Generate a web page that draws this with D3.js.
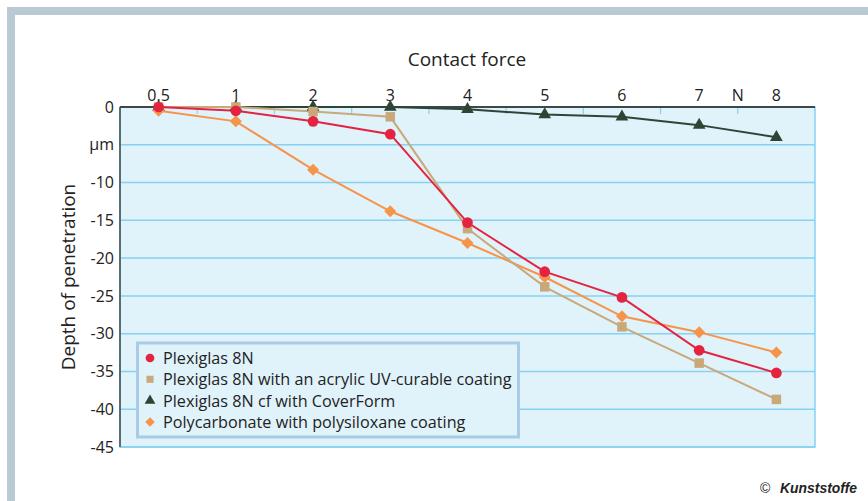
<!DOCTYPE html>
<html>
<head>
  <meta charset="UTF-8">
  <title>Depth of penetration vs contact force</title>
  <script src="https://d3js.org/d3.v7.min.js"></script>
  <style>
    body { margin: 0; background: #fff; }
    svg { display: block; font-family: "Open Sans", "Noto Sans", sans-serif; }
    .tick text { fill: #222; }
  </style>
</head>
<body>
  <div id="chart"></div>
  <script>
    // chart data
    var forces = ["0.5", "1", "2", "3", "4", "5", "6", "7", "8"];
    var seriesNames = [
      "Plexiglas 8N",
      "Plexiglas 8N with an acrylic UV-curable coating",
      "Plexiglas 8N cf with CoverForm",
      "Polycarbonate with polysiloxane coating"
    ];
    var plexi = [0, -0.5, -1.9, -3.6, -15.3, -21.8, -25.2, -32.2, -35.2];
    var plexiUV = [0, 0, -0.6, -1.3, -16.1, -23.8, -29.1, -33.9, -38.7];
    var coverForm = [0, 0, 0, 0, -0.3, -1.0, -1.3, -2.4, -4.0];
    var polycarb = [-0.5, -1.9, -8.3, -13.8, -18.0, -22.5, -27.7, -29.8, -32.5];
    var yTicks = [0, -5, -10, -15, -20, -25, -30, -35, -40, -45];

    var colors = ["#e3233f", "#c9a97a", "#2e4536", "#f6944a"];
    // diamond = square turned 45 degrees
    var symbols = [d3.symbolCircle, d3.symbolSquare, d3.symbolTriangle, d3.symbolSquare];
    var rotations = [0, 0, 0, 45];
    var allSeries = [plexi, plexiUV, coverForm, polycarb];

    var W = 868, H = 501;
    var pLeft = 120, pRight = 815, pTop = 107, pBottom = 447;

    var svg = d3.select("#chart").append("svg")
      .attr("width", W)
      .attr("height", H);

    // outer frame (top and left bands)
    svg.append("rect").attr("x", 7).attr("y", 7).attr("width", W - 7).attr("height", 8).attr("fill", "#b9cad4");
    svg.append("rect").attr("x", 7).attr("y", 7).attr("width", 8).attr("height", H - 7).attr("fill", "#b9cad4");

    var x = d3.scaleBand().domain(forces).range([pLeft, pRight]);
    var y = d3.scaleLinear().domain([0, -45]).range([pTop, pBottom]);
    var cx = function (i) { return x(forces[i]) + x.bandwidth() / 2; };

    // plot background
    svg.append("rect")
      .attr("x", pLeft).attr("y", pTop)
      .attr("width", pRight - pLeft).attr("height", pBottom - pTop)
      .attr("fill", "#e0f2fa")
      .attr("stroke", "#86d2f2")
      .attr("stroke-width", 1.5);

    // horizontal grid
    svg.append("g").selectAll("line")
      .data(yTicks.slice(1))
      .enter().append("line")
      .attr("x1", pLeft).attr("x2", pRight)
      .attr("y1", function (d) { return y(d); })
      .attr("y2", function (d) { return y(d); })
      .attr("stroke", "#86d2f2")
      .attr("stroke-width", 1.5);

    // small ticks at band boundaries on top axis
    svg.append("g").selectAll("line")
      .data(forces.slice(1))
      .enter().append("line")
      .attr("x1", function (d) { return x(d); })
      .attr("x2", function (d) { return x(d); })
      .attr("y1", pTop).attr("y2", pTop + 7)
      .attr("stroke", "#86d2f2")
      .attr("stroke-width", 1.2);

    // x axis on top
    var xAxis = svg.append("g")
      .attr("transform", "translate(0," + pTop + ")")
      .call(d3.axisTop(x).tickSize(0).tickPadding(6));
    xAxis.select(".domain").remove();
    xAxis.selectAll("text").attr("font-size", 16).attr("font-family", "Open Sans, sans-serif");

    svg.append("text")
      .attr("x", x("8")).attr("y", pTop - 6)
      .attr("text-anchor", "middle")
      .attr("font-size", 16).attr("fill", "#222")
      .text("N");

    // y axis
    var yAxis = svg.append("g")
      .attr("transform", "translate(" + pLeft + ",0)")
      .call(d3.axisLeft(y).tickValues(yTicks).tickSize(0).tickPadding(6)
        .tickFormat(function (d) { return d === -5 ? "\u00b5m" : d; }));
    yAxis.select(".domain").remove();
    yAxis.selectAll("text").attr("font-size", 16).attr("font-family", "Open Sans, sans-serif");

    // dark axis lines
    svg.append("line").attr("x1", pLeft).attr("x2", pRight).attr("y1", pTop).attr("y2", pTop)
      .attr("stroke", "#3b4a48").attr("stroke-width", 2);
    svg.append("line").attr("x1", pLeft).attr("x2", pLeft).attr("y1", pTop).attr("y2", pBottom)
      .attr("stroke", "#3b4a48").attr("stroke-width", 1.5);

    // titles
    svg.append("text")
      .attr("x", 467).attr("y", 66)
      .attr("text-anchor", "middle")
      .attr("font-size", 19).attr("fill", "#222")
      .text("Contact force");

    svg.append("text")
      .attr("transform", "translate(75," + 277 + ") rotate(-90)")
      .attr("text-anchor", "middle")
      .attr("font-size", 19).attr("fill", "#222")
      .text("Depth of penetration");

    // series lines and markers
    var line = d3.line()
      .x(function (d, i) { return cx(i); })
      .y(function (d) { return y(d); });

    var drawOrder = [2, 3, 1, 0];
    drawOrder.forEach(function (s) {
      svg.append("path")
        .datum(allSeries[s])
        .attr("d", line)
        .attr("fill", "none")
        .attr("stroke", colors[s])
        .attr("stroke-width", 2);
    });
    drawOrder.forEach(function (s) {
      var size = s === 2 ? 70 : s === 3 ? 72 : 90;
      svg.append("g").selectAll("path")
        .data(allSeries[s])
        .enter().append("path")
        .attr("transform", function (d, i) {
          return "translate(" + cx(i) + "," + y(d) + ") rotate(" + rotations[s] + ")";
        })
        .attr("d", d3.symbol().type(symbols[s]).size(size))
        .attr("fill", colors[s]);
    });

    // legend
    var lg = svg.append("g");
    lg.append("rect")
      .attr("x", 137.5).attr("y", 343)
      .attr("width", 381).attr("height", 94)
      .attr("fill", "#e0f2fa")
      .attr("stroke", "#a9cbe6")
      .attr("stroke-width", 3);
    seriesNames.forEach(function (name, i) {
      var ly = 358 + i * 21.3;
      lg.append("path")
        .attr("transform", "translate(150," + ly + ") rotate(" + rotations[i] + ")")
        .attr("d", d3.symbol().type(symbols[i]).size(i === 0 ? 60 : i === 3 ? 45 : 50))
        .attr("fill", colors[i]);
      lg.append("text")
        .attr("x", 163).attr("y", ly + 6)
        .attr("font-size", 16.2).attr("fill", "#222")
        .text(name);
    });

    // copyright
    svg.append("text")
      .attr("x", 760).attr("y", 493)
      .attr("font-size", 14).attr("fill", "#222")
      .attr("font-family", "Liberation Sans, sans-serif")
      .text("\u00a9");
    svg.append("text")
      .attr("x", 780).attr("y", 493)
      .attr("font-size", 15).attr("fill", "#222")
      .attr("font-weight", "bold").attr("font-style", "italic")
      .attr("font-family", "Liberation Sans Narrow, Liberation Sans, sans-serif")
      .attr("textLength", 77).attr("lengthAdjust", "spacingAndGlyphs")
      .text("Kunststoffe");
  </script>
</body>
</html>
